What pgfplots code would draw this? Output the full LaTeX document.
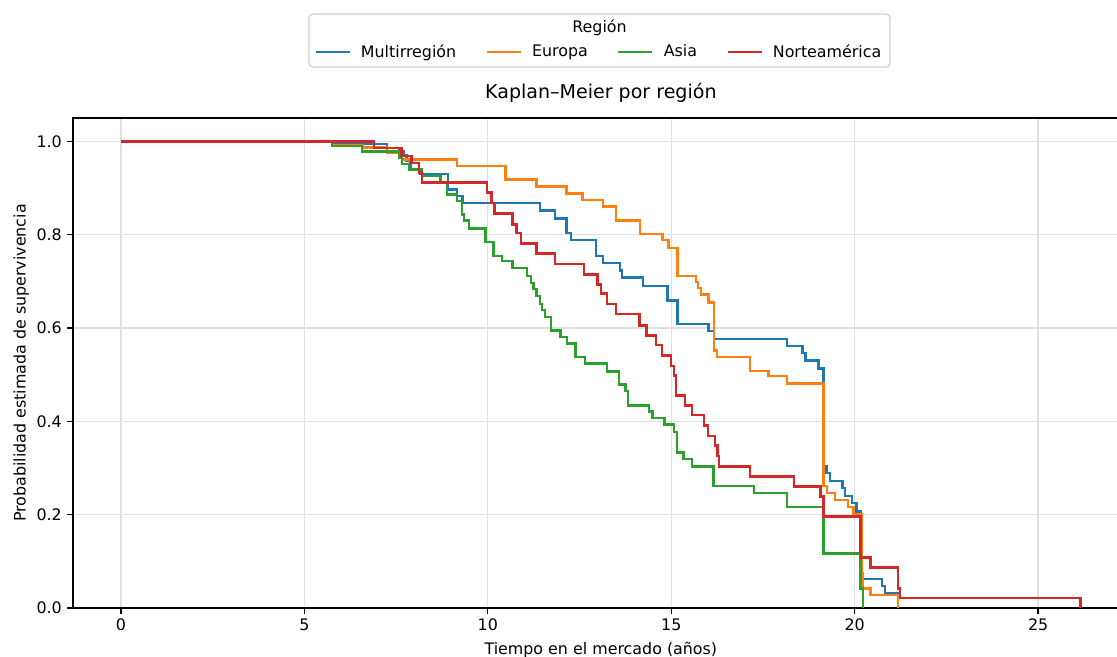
\documentclass[border=0pt]{standalone}
\usepackage{fontspec}
\setmainfont{DejaVu Sans}
\usepackage{pgfplots}
\pgfplotsset{compat=1.18}
\definecolor{tabblue}{HTML}{1F77B4}
\definecolor{taborange}{HTML}{FF7F0E}
\definecolor{tabgreen}{HTML}{2CA02C}
\definecolor{tabred}{HTML}{D62728}
\begin{document}
\begin{tikzpicture}
\useasboundingbox (0,0) rectangle (703.71pt,413.91pt);
\begin{axis}[
  at={(45.99pt,30.87pt)}, anchor=south west,
  scale only axis, width=665.1pt, height=308.7pt,
  xmin=-1.308, xmax=27.47, ymin=0, ymax=1.05,
  xtick={0,5,10,15,20,25},
  ytick={0,0.2,0.4,0.6,0.8,1.0},
  yticklabel style={/pgf/number format/.cd, fixed, fixed zerofill, precision=1},
  /pgf/number format/assume math mode=true,
  tick label style={font=\fontsize{10}{12}\selectfont},
  label style={font=\fontsize{10}{12}\selectfont},
  ylabel style={yshift=-2pt},
  tick align=outside, major tick length=3.5pt,
  every tick/.style={black, line width=0.8pt},
  axis line style={black, line width=0.8pt},
  xtick pos=bottom, ytick pos=left,
  grid=major, major grid style={black!12, line width=0.8pt},
  xlabel={Tiempo en el mercado (años)},
  ylabel={Probabilidad estimada de supervivencia},
  title={Kaplan–Meier por región},
  title style={at={(0.5,1)}, anchor=base, yshift=6.3pt, font=\fontsize{12}{14}\selectfont},
  clip=false,
  legend columns=4,
  legend style={at={(axis description cs:0.4987,1.1347)}, anchor=center, draw=none, fill=none,
    font=\fontsize{10}{12}\selectfont,
    /tikz/every odd column/.append style={column sep=4.4pt},
    /tikz/every even column/.append style={column sep=16.5pt}},
  legend image code/.code={\draw[#1] (0pt,0pt) -- (21.4pt,0pt);},
  every axis plot/.append style={line width=1.5pt, const plot, mark=none},
]
\addplot[tabblue] coordinates {
(0,1.000) (5.78,0.994) (7.25,0.986) (7.57,0.979) (7.71,0.970) (7.78,0.958) (7.89,0.941)
(8.16,0.930) (8.92,0.897) (9.16,0.883) (9.31,0.868) (11.42,0.852) (11.83,0.835) (12.14,0.804)
(12.26,0.788) (12.94,0.754) (13.14,0.739) (13.60,0.723) (13.66,0.708) (14.23,0.690) (14.90,0.659)
(15.17,0.609) (16.01,0.593) (16.17,0.577) (18.15,0.562) (18.58,0.547) (18.66,0.530) (19.01,0.513)
(19.15,0.303) (19.23,0.289) (19.33,0.272) (19.67,0.257) (19.73,0.240) (19.92,0.225) (20.05,0.207)
(20.16,0.062) (20.74,0.047) (20.83,0.031) (21.18,0.000)
};
\addlegendentry{Multirregión}
\addplot[taborange] coordinates {
(0,1.000) (5.75,0.991) (6.60,0.987) (7.25,0.975) (7.66,0.961) (9.16,0.947) (10.48,0.918)
(11.33,0.903) (12.14,0.888) (12.58,0.874) (13.14,0.860) (13.49,0.830) (14.15,0.801) (14.76,0.788)
(14.92,0.772) (15.17,0.712) (15.67,0.698) (15.73,0.686) (15.81,0.672) (16.01,0.655) (16.17,0.552)
(16.24,0.538) (17.15,0.508) (17.65,0.497) (18.15,0.481) (19.15,0.262) (19.24,0.247) (19.47,0.232)
(19.81,0.217) (19.97,0.202) (20.20,0.074) (20.23,0.042) (20.43,0.028) (21.18,0.000)
};
\addlegendentry{Europa}
\addplot[tabgreen] coordinates {
(0,1.000) (5.75,0.990) (6.57,0.978) (7.57,0.965) (7.66,0.952) (7.85,0.940) (8.20,0.926)
(8.71,0.913) (8.89,0.886) (9.16,0.872) (9.30,0.843) (9.35,0.830) (9.48,0.813) (9.94,0.784)
(10.15,0.754) (10.39,0.743) (10.67,0.729) (11.07,0.712) (11.17,0.697) (11.24,0.684) (11.33,0.668)
(11.42,0.652) (11.47,0.638) (11.55,0.624) (11.73,0.595) (11.98,0.581) (12.15,0.567) (12.39,0.538)
(12.65,0.524) (13.24,0.507) (13.58,0.479) (13.75,0.465) (13.82,0.434) (14.40,0.421) (14.49,0.407)
(14.82,0.393) (15.07,0.377) (15.15,0.333) (15.33,0.319) (15.56,0.303) (16.15,0.262) (17.26,0.247)
(18.15,0.217) (19.15,0.117) (20.16,0.042) (20.23,0.000)
};
\addlegendentry{Asia}
\addplot[tabred] coordinates {
(0,1.000) (6.90,0.986) (7.65,0.968) (7.92,0.953) (8.12,0.933) (8.21,0.912) (9.98,0.890)
(10.10,0.868) (10.18,0.845) (10.67,0.822) (10.78,0.803) (10.90,0.781) (11.33,0.760) (11.83,0.737)
(12.62,0.715) (12.99,0.693) (13.08,0.674) (13.25,0.652) (13.49,0.630) (14.13,0.605) (14.32,0.584)
(14.58,0.563) (14.75,0.541) (15.00,0.519) (15.07,0.498) (15.13,0.455) (15.38,0.434) (15.56,0.413)
(15.89,0.391) (16.00,0.369) (16.19,0.348) (16.26,0.326) (16.30,0.303) (17.15,0.282) (18.34,0.260)
(19.07,0.239) (19.15,0.196) (20.16,0.108) (20.43,0.087) (21.18,0.042) (21.24,0.021) (26.16,0.000)
};
\addlegendentry{Norteamérica}
\draw[black!18, line width=0.8pt, rounded corners=2.5pt] (axis description cs:0.2236,1.1041) rectangle (axis description cs:0.7739,1.2122);
\node[font=\fontsize{10}{12}\selectfont, anchor=center] at (axis description cs:0.4987,1.1837) {Región};
\end{axis}
\end{tikzpicture}
\end{document}
